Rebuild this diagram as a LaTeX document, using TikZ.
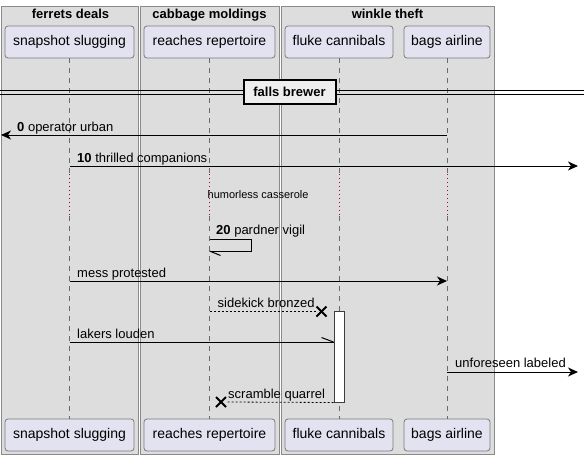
\documentclass[tikz,border=0pt]{standalone}
\usepackage{fontspec}
\setmainfont{Liberation Sans}
\usetikzlibrary{arrows.meta,calc}
\definecolor{grpfill}{HTML}{DDDDDD}
\definecolor{grpline}{HTML}{8A8A8A}
\definecolor{partfill}{HTML}{E2E2F0}
\definecolor{partline}{HTML}{7A7A7A}
\definecolor{lifecol}{HTML}{6A6A6A}
\definecolor{delayred}{HTML}{A80036}
\definecolor{divfill}{HTML}{EEEEEE}
\begin{document}
\begin{tikzpicture}[x=1pt,y=-1pt,
  grp/.style={draw=grpline, fill=grpfill, line width=1pt},
  grptitle/.style={font=\fontsize{13}{15}\selectfont\bfseries, anchor=base, inner sep=0pt},
  part/.style={draw=partline, fill=partfill, rounded corners=3pt, minimum height=32pt, inner sep=0pt, line width=0.8pt, font=\fontsize{14}{16}\selectfont, text height=10pt, text depth=3pt},
  lifeline/.style={draw=lifecol, dash pattern=on 5pt off 5pt, line width=0.8pt},
  delayline/.style={draw=delayred, dash pattern=on 1pt off 3pt, line width=0.8pt},
  msg/.style={draw=black, line width=1pt},
  arr/.style={msg, -{Stealth[length=10pt, width=9pt, inset=3pt]}},
  dmsg/.style={draw=black, line width=0.8pt, dash pattern=on 2pt off 2pt},
  lbl/.style={anchor=base west, inner sep=0pt, font=\fontsize{13}{15}\selectfont},
  smalllbl/.style={anchor=base west, inner sep=0pt, font=\fontsize{11}{13}\selectfont},
  xmark/.style={draw=black, line width=2pt},
  actbox/.style={draw=partline!50!black, fill=white, line width=1pt, minimum width=10pt, inner sep=0pt}
]
\useasboundingbox (0,0) rectangle (584,461);
\fill[white] (0,0) rectangle (584,461);

% groups
\node[grp, minimum width=137pt, minimum height=448pt, inner sep=0pt] (g1) at (69.5,230) {};
\node[grp, minimum width=139pt, minimum height=448pt, inner sep=0pt] (g2) at (209.5,230) {};
\node[grp, minimum width=213pt, minimum height=448pt, inner sep=0pt] (g3) at (387.5,230) {};
\node[grptitle] (g1t) at (70.5,18) {ferrets deals};
\node[grptitle] (g2t) at (209.5,18) {cabbage moldings};
\node[grptitle] (g3t) at (387.5,18) {winkle theft};

% participants
\node[part, minimum width=129pt] (snapT) at (69.5,42) {snapshot slugging};
\node[part, minimum width=131pt] (reachT) at (209.5,42) {reaches repertoire};
\node[part, minimum width=108pt] (flukeT) at (339,42) {fluke cannibals};
\node[part, minimum width=86pt] (bagsT) at (447,42) {bags airline};
\node[part, minimum width=129pt] (snapB) at (69.5,435) {snapshot slugging};
\node[part, minimum width=131pt] (reachB) at (209.5,435) {reaches repertoire};
\node[part, minimum width=108pt] (flukeB) at (339,435) {fluke cannibals};
\node[part, minimum width=86pt] (bagsB) at (447,435) {bags airline};

% lifelines
\foreach \p in {snap,reach,fluke,bags}{
  \draw[lifeline] (\p T.south) -- (\p T.south |- 0,173);
  \draw[delayline] (\p T.south |- 0,174) -- (\p T.south |- 0,215);
  \draw[lifeline] (\p T.south |- 0,216) -- (\p B.north);
}

% divider
\draw[black, line width=1pt] (0,90) -- (584,90);
\draw[black, line width=1pt] (0,94) -- (584,94);
\node[draw=black, line width=2pt, fill=divfill, minimum width=92pt, minimum height=24pt, inner sep=0pt, font=\fontsize{13}{15}\selectfont\bfseries] (div) at (289.5,92) {falls brewer};

% coordinates
\coordinate (leftedge) at (1,135);
\coordinate (rightA) at (578,166);
\coordinate (rightB) at (578,372);

% 0 operator urban
\draw[arr] (bagsT.south |- 0,135) -- (leftedge);
\node[lbl] (l0) at (17,131) {\textbf{0} operator urban};

% 10 thrilled companions
\draw[arr] (snapT.south |- 0,166) -- (rightA);
\node[lbl] (l10) at (77,162) {\textbf{10} thrilled companions};

% delay text
\node[smalllbl] (ldelay) at (207.5,198) {humorless casserole};

% 20 pardner vigil (self)
\draw[msg] (reachT.south |- 0,239) -- (251,239) -- (251,251) -- (reachT.south |- 0,251);
\draw[msg] (reachT.south |- 0,251) -- ++(11,4.5);
\node[lbl] (l20) at (216,234) {\textbf{20} pardner vigil};

% mess protested
\draw[arr] (snapT.south |- 0,281) -- (bagsT.south |- 0,281);
\node[lbl] (lmess) at (77,277) {mess protested};

% activation box
\node[actbox, minimum height=91pt] (act) at (339,356.5) {};

% sidekick bronzed (lost)
\coordinate (x1) at (321.5,311.5);
\draw[dmsg] (reachT.south |- 0,311) -- (316,311);
\draw[xmark] ($(x1)+(-5,-5)$) -- ($(x1)+(5,5)$);
\draw[xmark] ($(x1)+(-5,5)$) -- ($(x1)+(5,-5)$);
\node[lbl] (lside) at (217.5,307) {sidekick bronzed};

% lakers louden
\draw[msg] (snapT.south |- 0,342) -- (act.west |- 0,342);
\draw[msg] (act.west |- 0,342) -- ++(-12,-4.5);
\node[lbl] (llakers) at (77,338) {lakers louden};

% unforeseen labeled
\draw[arr] (bagsT.south |- 0,372) -- (rightB);
\node[lbl] (lunf) at (455,367) {unforeseen labeled};

% scramble quarrel
\coordinate (x2) at (221,402);
\draw[dmsg] (act.south west) -- (226,402);
\draw[xmark] ($(x2)+(-5,-5)$) -- ($(x2)+(5,5)$);
\draw[xmark] ($(x2)+(-5,5)$) -- ($(x2)+(5,-5)$);
\node[lbl] (lscr) at (228,398) {scramble quarrel};
\end{tikzpicture}
\end{document}
